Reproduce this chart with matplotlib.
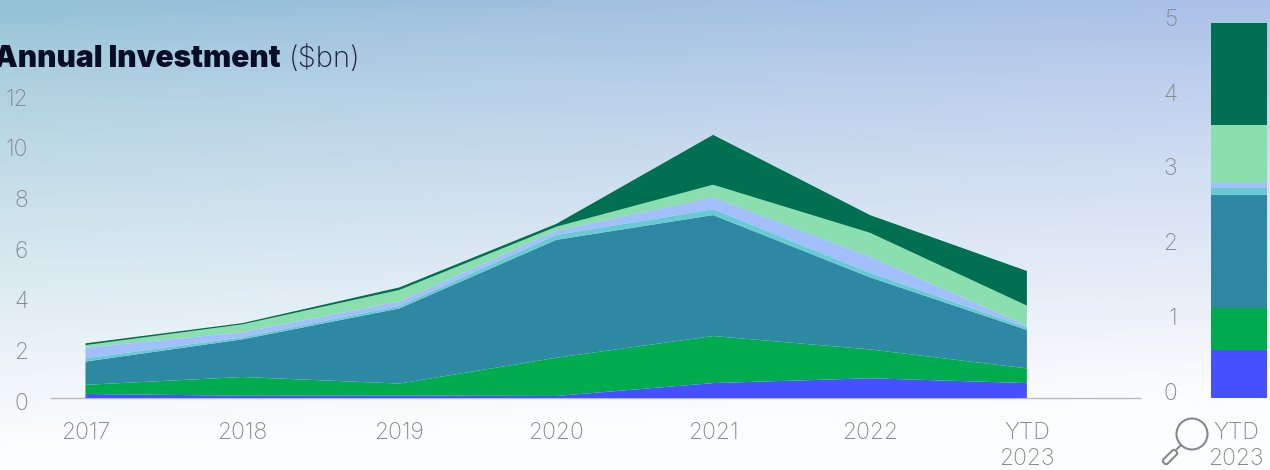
import numpy as np
import matplotlib
matplotlib.use("Agg")
import matplotlib.pyplot as plt
from matplotlib.patches import Circle, FancyBboxPatch
from matplotlib.transforms import Affine2D, ScaledTranslation

W, H = 1270, 470

years = ["2017", "2018", "2019", "2020", "2021", "2022", "YTD\n2023"]

# heights of each layer, bottom to top
blue = [0.16, 0.09, 0.10, 0.08, 0.59, 0.78, 0.59]
green = [0.36, 0.74, 0.47, 1.51, 1.86, 1.14, 0.58]
teal = [0.92, 1.49, 2.97, 4.66, 4.78, 2.85, 1.52]
light_teal = [0.13, 0.08, 0.10, 0.19, 0.23, 0.18, 0.10]
periwinkle = [0.42, 0.20, 0.17, 0.17, 0.47, 0.63, 0.07]
light_green = [0.10, 0.31, 0.46, 0.16, 0.50, 0.95, 0.79]
dark_green = [0.07, 0.05, 0.10, 0.11, 1.97, 0.70, 1.37]

# zoomed YTD bar
ytd_values = [0.64, 0.56, 1.52, 0.09, 0.07, 0.77, 1.37]

colors = ["#4650FF", "#00AB4E", "#2F88A3", "#68CBD4", "#A2BFFC", "#8BDFAE", "#007050"]
gray = "#86888D"
font = "Inter"


def px_axes(fig, left, top, right, bottom):
    return fig.add_axes([left / W, 1 - bottom / H, (right - left) / W, (bottom - top) / H])


def shift_labels(labels, fig, dx=0, dy=0):
    offset = ScaledTranslation(dx / 100, dy / 100, fig.dpi_scale_trans)
    for lab in labels:
        lab.set_transform(lab.get_transform() + offset)


fig = plt.figure(figsize=(W / 100, H / 100), dpi=100)

# background gradient
bg = fig.add_axes([0, 0, 1, 1], zorder=0)
xx, yy = np.meshgrid(np.linspace(0, 1, 320), np.linspace(0, 1, 120))
top_left = np.array([0x96, 0xC4, 0xD6]) / 255
top_right = np.array([0xA0, 0xB8, 0xE6]) / 255
white = np.array([0xFC, 0xFD, 0xFE]) / 255
t = np.clip((yy + 0.10 * xx - 0.03) / 0.92, 0, 1) ** 0.8
mix = xx[..., None] ** 0.8
top = top_left * (1 - mix) + top_right * mix
grad = top * (1 - t[..., None]) + white * t[..., None]
bg.imshow(grad, extent=(0, W, H, 0), aspect="auto", interpolation="bilinear")
bg.set_xlim(0, W)
bg.set_ylim(H, 0)
bg.axis("off")

# magnifier icon
bg.add_patch(Circle((1192, 434), 15.5, fill=False, ec=gray, lw=1.5))
bg.plot([1181, 1177], [445, 449], color=gray, lw=1.5)
handle = FancyBboxPatch((-17, -3), 17, 6, boxstyle="round,pad=0,rounding_size=2.5",
                        fill=False, ec=gray, lw=1.5,
                        transform=Affine2D().rotate_deg(-45).translate(1176, 451) + bg.transData)
bg.add_patch(handle)

# main area chart
ax = px_axes(fig, 51, 94.4, 1140, 398)
ax.patch.set_alpha(0)
ax.set_zorder(1)
x = np.arange(len(years))
ax.stackplot(x, blue, green, teal, light_teal, periwinkle, light_green, dark_green,
             colors=colors, lw=0, zorder=3)
ax.set_xlim(-34.5 / 156.9, (1140 - 85.5) / 156.9)
ax.set_ylim(0, 12)
ax.set_yticks(range(0, 13, 2))
ax.set_xticks(x)
ax.set_xticklabels(years, fontfamily=font, fontweight="light", fontsize=16.5,
                   color=gray, linespacing=1.2)
ax.tick_params(axis="x", length=0, pad=17.5)
ax.tick_params(axis="y", length=0, pad=16.5, labelsize=16.5, labelcolor=gray)
for lab in ax.get_yticklabels():
    lab.set_fontfamily(font)
    lab.set_fontweight("light")
shift_labels(ax.get_yticklabels(), fig, dy=-3)
for side in ["top", "left", "right"]:
    ax.spines[side].set_visible(False)
ax.spines["bottom"].set_color("#B9BABD")
ax.spines["bottom"].set_linewidth(1)

# zoomed bar on the right
ax2 = px_axes(fig, 1211, 24.5, 1267, 398)
ax2.patch.set_alpha(0)
ax2.set_zorder(1)
bottom = 0
for val, c in zip(ytd_values, colors):
    ax2.bar(0, val, width=1, bottom=bottom, color=c, lw=0, clip_on=False)
    bottom += val
ax2.set_xlim(-0.5, 0.5)
ax2.set_ylim(0, 5)
ax2.set_yticks(range(6))
ax2.set_xticks([0])
ax2.set_xticklabels(["YTD\n2023"], fontfamily=font, fontweight="light", fontsize=16.5,
                    color=gray, linespacing=1.2)
ax2.tick_params(axis="x", length=0, pad=17.5)
ax2.tick_params(axis="y", length=0, pad=24.5, labelsize=16.5, labelcolor=gray)
for lab in ax2.get_yticklabels():
    lab.set_fontfamily(font)
    lab.set_fontweight("light")
shift_labels(ax2.get_yticklabels(), fig, dy=7)
shift_labels(ax2.get_xticklabels(), fig, dx=-3)
for side in ax2.spines:
    ax2.spines[side].set_visible(False)

# title, starts just off the left edge like the original
fig.text(-6 / W, 1 - 67 / H, "Annual Investment", fontfamily=font, fontweight=900,
         fontsize=21.5, color="#070D24", va="baseline")
fig.text(289 / W, 1 - 67 / H, "($bn)", fontfamily=font, fontweight="light",
         fontsize=21, color="#1A2038", va="baseline")

fig.savefig("out.png", dpi=100)
